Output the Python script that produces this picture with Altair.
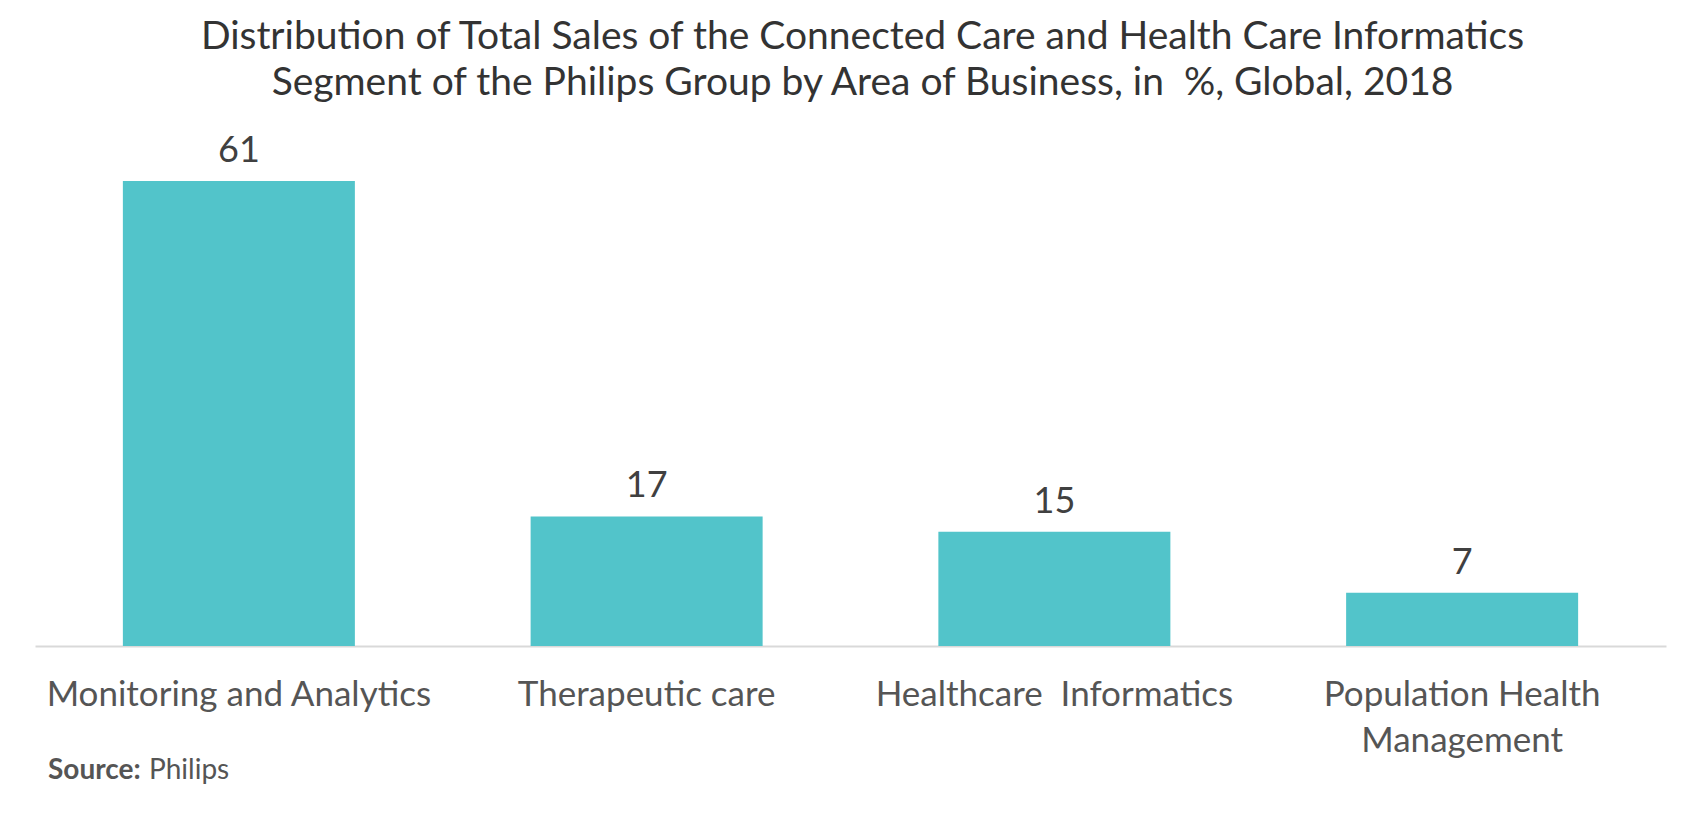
import altair as alt
import pandas as pd

categories = ["Monitoring and Analytics", "Therapeutic care", "Healthcare  Informatics", "Population Health Management"]
values = [61, 17, 15, 7]

title_line1 = "Distribution of Total Sales of the Connected Care and Health Care Informatics"
title_line2 = "Segment of the Philips Group by Area of Business, in \u00a0%, Global, 2018"

df = pd.DataFrame({"category": categories, "value": values})

FONT = "Lato"

x_enc = alt.X(
    "category:N",
    sort=categories,
    title=None,
    scale=alt.Scale(paddingInner=0.431, paddingOuter=0.2155),
    axis=alt.Axis(
        labelAngle=0,
        labelFont=FONT,
        labelFontSize=35,
        labelColor="#555555",
        labelPadding=31,
        labelLimit=600,
        labelLineHeight=46,
        labelBaseline="top",
        labelExpr="datum.label == 'Population Health Management' ? ['Population Health', 'Management'] : replace(datum.label, '  ', ' \u00a0')",
        ticks=False,
        domainColor="#d9d9d9",
        domainWidth=2,
        grid=False,
    ),
)
y_enc = alt.Y(
    "value:Q",
    title=None,
    scale=alt.Scale(domain=[0, 61], nice=False),
    axis=None,
)

bars = alt.Chart(df).mark_bar(color="#52C4CA").encode(x=x_enc, y=y_enc)

labels = alt.Chart(df).mark_text(
    font=FONT, fontSize=36, color="#404040", baseline="alphabetic", dy=-19
).encode(x=alt.X("category:N", sort=categories), y="value:Q", text="value:Q")

source_bold = alt.Chart(pd.DataFrame({"t": ["Source:"]})).mark_text(
    font=FONT, fontSize=28, fontWeight="bold", color="#555555", align="left", baseline="alphabetic"
).encode(x=alt.value(13), y=alt.value(598), text="t:N")

source_rest = alt.Chart(pd.DataFrame({"t": ["Philips"]})).mark_text(
    font=FONT, fontSize=28, color="#555555", align="left", baseline="alphabetic"
).encode(x=alt.value(114), y=alt.value(598), text="t:N")

chart = (
    alt.layer(bars, labels, source_bold, source_rest)
    .properties(
        width=1631,
        height=465,
        autosize=alt.AutoSizeParams(type="none"),
        padding={"left": 27, "top": 173, "right": 10, "bottom": 150},
        title=alt.TitleParams(
            text=title_line1,
            subtitle=title_line2,
            font=FONT,
            fontSize=39,
            fontWeight="normal",
            color="#333333",
            lineHeight=39,
            subtitleFont=FONT,
            subtitleFontSize=39,
            subtitleFontWeight="normal",
            subtitleColor="#333333",
            subtitleLineHeight=39,
            subtitlePadding=7,
            anchor="middle",
            frame="group",
            dx=12,
            offset=30,
        ),
    )
    .configure_view(stroke=None)
)

chart.save("out.html", embed_options={"renderer": "svg", "actions": False})
